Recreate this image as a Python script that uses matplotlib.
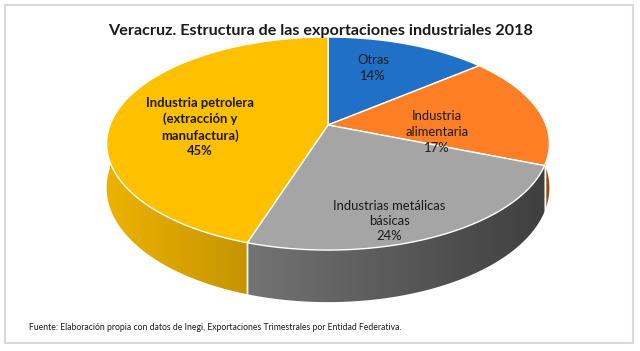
import numpy as np
import matplotlib
matplotlib.use("Agg")
import matplotlib.pyplot as plt
from matplotlib.patches import Polygon, Rectangle
from matplotlib.colors import to_rgb

plt.rcParams['font.family'] = ['Lato', 'DejaVu Sans']

# datos
categorias = ["Otras", "Industria\nalimentaria", "Industrias metálicas\nbásicas",
              "Industria petrolera\n(extracción y\nmanufactura)"]
valores = [14, 17, 24, 45]
colores = ["#1F70C6", "#FF7F27", "#A5A5A5", "#FFC000"]
titulo = "Veracruz. Estructura de las exportaciones industriales 2018"
fuente = "Fuente: Elaboración propia con datos de Inegi, Exportaciones Trimestrales por Entidad Federativa."

# geometria del pastel 3D (pixeles)
CX, CY = 328, 125
A, B, K, T = 218, 103.3, 0.174, 43
# sombreado de las paredes (izq -> der)
sombra = [(0.6, 0.6), (0.62, 0.55), (0.70, 0.38), (0.93, 0.77)]
# posiciones de etiquetas
pos_etq = [(373, 68), (437, 132), (389, 221), (200, 127)]
negrita = [False, False, False, True]


def proj(phi, r=1.0, z=0.0):
    # phi en grados, sentido horario desde las 12
    p = np.radians(phi)
    u = r * np.sin(p)
    v = -r * np.cos(p)
    w = 1 - K * v
    return CX + A * u / w, CY + (B * v + z) / w


fig = plt.figure(figsize=(6.4, 3.51), dpi=100)
ax = fig.add_axes([0, 0, 1, 1])
ax.set_xlim(0, 640)
ax.set_ylim(351, 0)
ax.axis("off")

ax.add_patch(Rectangle((5, 5), 628, 338, fill=False, ec="#D9D9D9", lw=1.5))

total = sum(valores)
limites = np.concatenate([[0], np.cumsum(valores)]) / total * 360

# paredes laterales con degradado
for i in range(len(valores)):
    a0, a1 = max(limites[i], 90), min(limites[i + 1], 270)
    if a1 <= a0:
        continue
    angs = np.linspace(a0, a1, 200)
    xt, yt = proj(angs)
    xb, yb = proj(angs, z=T)
    pts = list(zip(xt, yt)) + list(zip(xb[::-1], yb[::-1]))
    pared = Polygon(pts, closed=True, fc="none", ec="none")
    ax.add_patch(pared)
    rgb = np.array(to_rgb(colores[i]))
    fl, fr = sombra[i]
    f = np.linspace(fl, fr, 256)
    img = np.clip(f[None, :, None] * rgb[None, None, :], 0, 1)
    x_min, x_max = min(xt.min(), xb.min()) - 1, max(xt.max(), xb.max()) + 1
    y_min, y_max = min(yt.min(), yb.min()) - 1, max(yt.max(), yb.max()) + 1
    im = ax.imshow(img, extent=(x_min, x_max, y_max, y_min), aspect="auto",
                   interpolation="bilinear")
    im.set_clip_path(pared)
    # borde blanco entre rebanadas en la pared
    for a in (limites[i], limites[i + 1]):
        if 90 < a < 270:
            xa, ya = proj(a)
            xc, yc = proj(a, z=T)
            ax.plot([xa, xc], [ya, yc], color="white", lw=1)

ax.set_xlim(0, 640)
ax.set_ylim(351, 0)

# cara superior
for i in range(len(valores)):
    angs = np.linspace(limites[i], limites[i + 1], 200)
    xs, ys = proj(angs)
    pts = [(CX, CY)] + list(zip(xs, ys))
    ax.add_patch(Polygon(pts, closed=True, fc=colores[i], ec="white", lw=1))

# etiquetas
for i in range(len(valores)):
    x, y = pos_etq[i]
    ax.text(x, y, f"{categorias[i]}\n{valores[i]}%", ha="center", va="center",
            fontsize=9.4, linespacing=1.35, color="#1A1A1A",
            fontweight="bold" if negrita[i] else "normal")

ax.text(321, 31, titulo, ha="center", va="center", fontsize=11.6,
        fontweight="bold", color="#1A1A1A")
ax.text(29, 328, fuente, ha="left", va="center", fontsize=6.2, color="#1A1A1A")

fig.savefig("out.png", dpi=100)
